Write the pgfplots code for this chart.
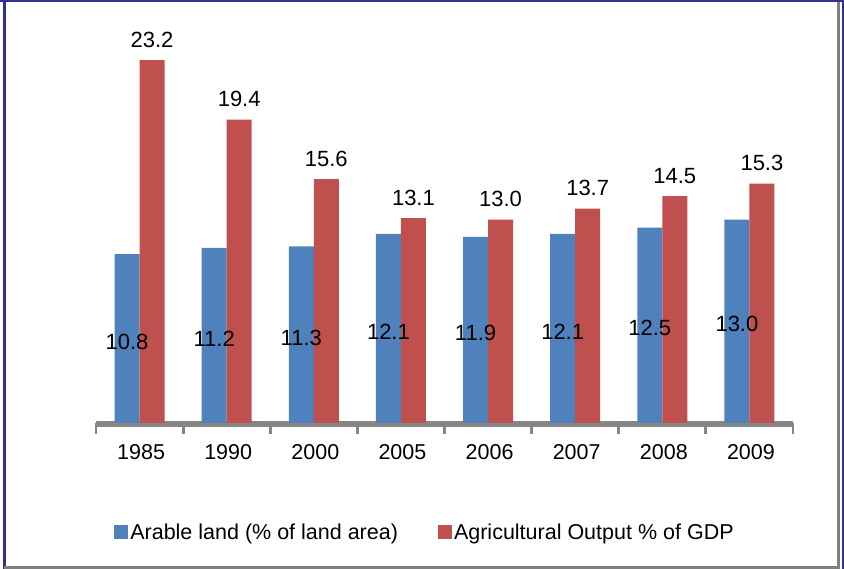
\documentclass[border=0pt]{standalone}
\usepackage{pgfplots}
\pgfplotsset{compat=1.18}
\usepackage{fontspec}
\setmainfont{Liberation Sans}
\definecolor{arableblue}{RGB}{79,129,189}
\definecolor{agrired}{RGB}{192,80,77}
\definecolor{axisgray}{RGB}{134,134,134}
\definecolor{frameblue}{RGB}{46,49,146}
\definecolor{framegray}{RGB}{128,128,128}
\begin{document}
\begin{tikzpicture}
\begin{axis}[
  at={(0,0)}, anchor=south west,
  scale only axis, width=697bp, height=391bp,
  xmin=-0.5, xmax=7.5, ymin=0, ymax=25,
  clip=false,
  axis x line=bottom, axis y line=none,
  separate axis lines,
  x axis line style={-, draw=axisgray, line width=4bp},
  xtick={0,...,7},
  xticklabels={1985,1990,2000,2005,2006,2007,2008,2009},
  major tick length=0pt,
  minor xtick={-0.5,0.5,...,7.5},
  minor tick length=11bp,
  tick align=outside,
  minor tick style={draw=axisgray, line width=2.8bp},
  xticklabel style={anchor=north, yshift=-18bp, xshift=1.5bp},
  font=\fontsize{21.5bp}{25bp}\selectfont,
  tick label style={font=\fontsize{21.5bp}{25bp}\selectfont},
  /pgf/number format/assume math mode=true,
  /pgf/number format/.cd, fixed, fixed zerofill, precision=1, /pgfplots/.cd,
  legend style={at={(0.472,-0.279)}, anchor=center, draw=none, fill=none,
    legend columns=2, font=\fontsize{21.5bp}{25bp}\selectfont,
    /tikz/every even column/.append style={column sep=38bp},
    nodes={inner sep=2bp}},
  after end axis/.code={
    \draw[axisgray, line width=4bp] ([xshift=-1.4bp,yshift=-2bp]axis cs:-0.5,0) -- ([xshift=1.4bp,yshift=-2bp]axis cs:7.5,0);
    \foreach \t in {-0.5,0.5,...,7.5}{
      \draw[axisgray, line width=2.8bp] ([yshift=-2bp]axis cs:\t,0) -- ([yshift=-10bp]axis cs:\t,0);
    }
  },
]
\addplot[ybar, bar width=25bp, bar shift=-12.5bp, fill=arableblue, draw=none,
  legend image code/.code={\fill[arableblue] (0bp,-7bp) rectangle (14bp,7bp);}]
  table[x=x, y=y] {
x y
0 10.8
1 11.2
2 11.3
3 12.1
4 11.9
5 12.1
6 12.5
7 13.0
};
\addlegendentry{Arable land (\% of land area)}
\addplot[ybar, bar width=25bp, bar shift=12.5bp, fill=agrired, draw=none,
  nodes near coords,
  every node near coord/.append style={anchor=south, xshift=12.5bp, yshift=9bp, text=black,
    font=\fontsize{22bp}{25bp}\selectfont},
  legend image code/.code={\fill[agrired] (0bp,-7bp) rectangle (14bp,7bp);}]
  table[x=x, y=y] {
x y
0 23.2
1 19.4
2 15.6
3 13.1
4 13.0
5 13.7
6 14.5
7 15.3
};
\addlegendentry{Agricultural Output \% of GDP}
\addplot[draw=none, mark=none, forget plot,
  nodes near coords, point meta=\thisrow{v},
  every node near coord/.append style={anchor=center, xshift=-12.5bp, yshift=-3bp,
    text=black, font=\fontsize{22bp}{25bp}\selectfont}]
  table[x=x, y expr=\thisrow{v}/2] {
x v
0 10.8
1 11.2
2 11.3
3 12.1
4 11.9
5 12.1
6 12.5
7 13.0
};
\end{axis}
\pgfresetboundingbox
\useasboundingbox (-96bp,-146bp) rectangle (748bp,423bp);
\draw[frameblue, line width=2.5bp] (-91.5bp,-146bp) -- (-91.5bp,423bp);
\draw[frameblue, line width=2.5bp] (-96bp,422bp) -- (748bp,422bp);
\draw[framegray, line width=2.5bp] (742.5bp,421bp) -- (742.5bp,-146bp);
\draw[framegray, line width=2.5bp] (-92bp,-144.5bp) -- (744bp,-144.5bp);
\draw[frameblue, line width=2bp] (747bp,423bp) -- (747bp,-146bp);
\end{tikzpicture}
\end{document}
